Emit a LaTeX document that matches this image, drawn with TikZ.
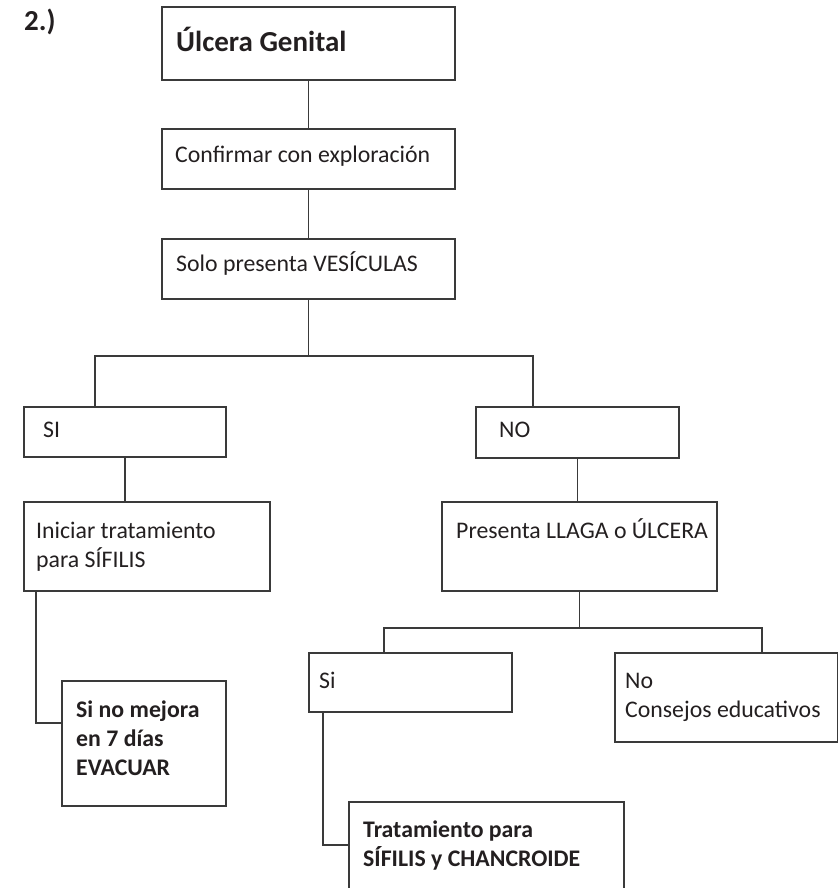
\documentclass[tikz,border=0pt]{standalone}
\usepackage{fontspec}
\setmainfont{Carlito}
\definecolor{ink}{HTML}{231F20}
\definecolor{rule}{HTML}{3A3A3A}
\begin{document}
\begin{tikzpicture}[x=1pt,y=-1pt,
  box/.style={draw=rule, line width=1.1pt, anchor=north west, inner sep=0pt, outer sep=0pt},
  link/.style={draw=rule, line width=1.1pt},
  txt/.style={anchor=base west, inner sep=0pt, text=ink, font=\fontsize{23.8}{29}\selectfont, align=left},
  btxt/.style={txt, font=\fontsize{23.8}{29}\selectfont\bfseries}]
\useasboundingbox (0,0) rectangle (839,888);

% boxes
\node[box, minimum width=293pt, minimum height=73pt] (ulcera) at (162,7) {};
\node[box, minimum width=293pt, minimum height=60pt] (confirmar) at (162,129) {};
\node[box, minimum width=293pt, minimum height=60pt] (vesic) at (162,239) {};
\node[box, minimum width=202pt, minimum height=50pt] (si) at (24,407) {};
\node[box, minimum width=203pt, minimum height=51pt] (no) at (476,407) {};
\node[box, minimum width=246pt, minimum height=89pt] (iniciar) at (24,502) {};
\node[box, minimum width=275pt, minimum height=89pt] (presenta) at (442,502) {};
\node[box, minimum width=164pt, minimum height=125pt] (evacuar) at (62,681) {};
\node[box, minimum width=203pt, minimum height=59pt] (si2) at (309,653) {};
\node[box, minimum width=222.5pt, minimum height=89pt] (no2) at (615,653) {};
\node[box, minimum width=275pt, minimum height=120pt] (trat) at (349,802) {};

% texts (multi-line labels are placed by the baseline of their last line)
\node[btxt, font=\fontsize{29}{34}\selectfont\bfseries] (num) at (24,31) {2.)};
\node[btxt, font=\fontsize{29}{34}\selectfont\bfseries] (tulcera) at (176,52) {Úlcera Genital};
\node[txt] (tconf) at (175,162) {Confirmar con exploración};
\node[txt] (tves) at (176,271) {Solo presenta VESÍCULAS};
\node[txt] (tsi) at (43,437) {SI};
\node[txt] (tno) at (499,437) {NO};
\node[txt] (tini) at (36,567) {Iniciar tratamiento\\para SÍFILIS};
\node[txt] (tpres) at (456,538) {Presenta LLAGA o ÚLCERA};
\node[btxt] (tevac) at (76,775) {Si no mejora\\en 7 días\\EVACUAR};
\node[txt] (tsi2) at (319,688) {Si};
\node[txt] (tno2) at (625,717) {No\\Consejos educativos};
\node[btxt] (ttrat) at (363,866) {Tratamiento para\\SÍFILIS y CHANCROIDE};

% connectors
\draw[link] (ulcera.south) -- (confirmar.north);
\draw[link] (confirmar.south) -- (vesic.north);
\draw[link] (vesic.south) -- ++(0,57) coordinate (split1);
\draw[link] ([xshift=71pt]si.north west) |- (split1) -| ([xshift=57pt]no.north west);
\draw[link] (si.south) -- (si.south |- iniciar.north);
\draw[link] (no.south) -- (no.south |- presenta.north);
\draw[link] ([xshift=12pt]iniciar.south west) |- ([yshift=-42pt]evacuar.north west);
\draw[link] (presenta.south) -- ++(0,37) coordinate (split2);
\draw[link] ([xshift=75pt]si2.north west) |- (split2) -| ([xshift=147pt]no2.north west);
\draw[link] ([xshift=14pt]si2.south west) |- ([yshift=-43pt]trat.north west);
\end{tikzpicture}
\end{document}
